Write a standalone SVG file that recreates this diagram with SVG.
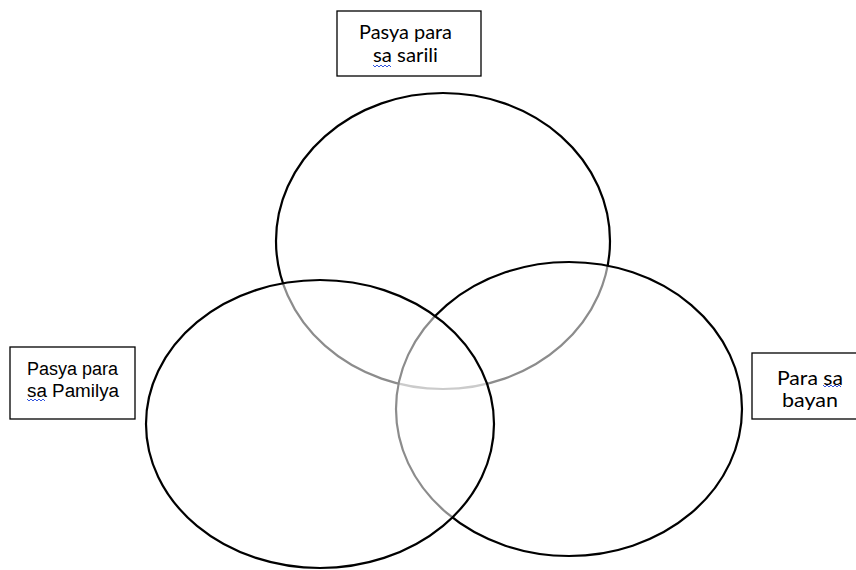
<svg xmlns="http://www.w3.org/2000/svg" width="856" height="570" viewBox="0 0 856 570">
<style>
.c{fill:#fff;fill-opacity:0.55;stroke:#000;stroke-width:2.2}
.b{fill:#fff;stroke:#000;stroke-width:1.3}
.t{font-family:Lato,"Liberation Sans",sans-serif;font-size:19px;fill:#000;text-anchor:middle}
.a{font-family:"Liberation Sans",Arial,sans-serif;font-size:18px;fill:#000;text-anchor:middle}
.w{fill:none;stroke:#3355dd;stroke-width:1}
</style>
<rect width="856" height="570" fill="#fff"/>
<g id="circles">
<ellipse id="top" class="c" cx="443" cy="241" rx="167" ry="148"/>
<ellipse id="right" class="c" cx="569" cy="409" rx="173" ry="147"/>
<ellipse id="left" class="c" cx="320" cy="424" rx="174" ry="144"/>
</g>
<g id="label-top">
<rect class="b" x="337" y="11" width="144" height="65"/>
<text class="t" x="405.5" y="39" textLength="93" lengthAdjust="spacingAndGlyphs">Pasya para</text>
<text class="t" x="405.5" y="62" textLength="65" lengthAdjust="spacingAndGlyphs">sa sarili</text>
<path class="w" d="M373 65 l2 2 l2 -2 l2 2 l2 -2 l2 2 l2 -2 l2 2 l2 -2 l2 2"/>
</g>
<g id="label-left">
<rect class="b" x="10" y="347" width="125" height="72"/>
<text class="a" x="72.5" y="375" textLength="91" lengthAdjust="spacingAndGlyphs">Pasya para</text>
<text class="a" x="73" y="397" textLength="92" lengthAdjust="spacingAndGlyphs">sa Pamilya</text>
<path class="w" d="M27 399 l2 2 l2 -2 l2 2 l2 -2 l2 2 l2 -2 l2 2 l2 -2 l2 2"/>
</g>
<g id="label-right">
<rect class="b" x="752" y="353" width="106" height="66"/>
<text class="t" x="810" y="385" textLength="66" lengthAdjust="spacingAndGlyphs">Para sa</text>
<text class="t" x="810" y="407" textLength="56" lengthAdjust="spacingAndGlyphs">bayan</text>
<path class="w" d="M823 385 l2 2 l2 -2 l2 2 l2 -2 l2 2 l2 -2 l2 2 l2 -2 l2 2"/>
</g>
</svg>
